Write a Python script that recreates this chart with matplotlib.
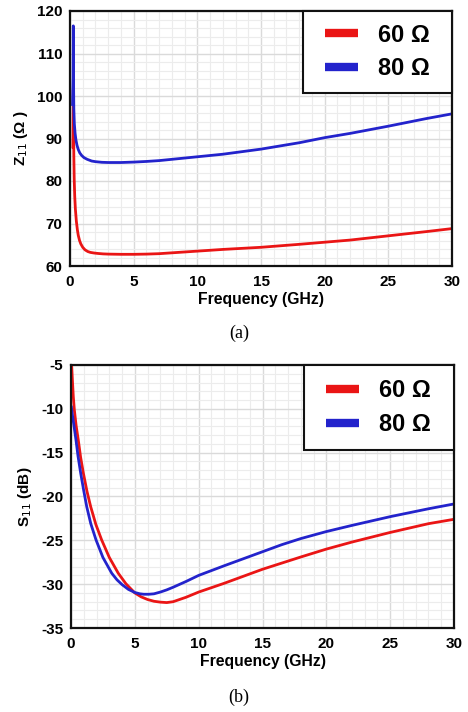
import matplotlib
matplotlib.use("Agg")
import matplotlib.pyplot as plt
from matplotlib.ticker import MultipleLocator
from matplotlib.patches import Rectangle

plt.rcParams['font.family'] = ['Liberation Sans', 'DejaVu Sans']
plt.rcParams['axes.unicode_minus'] = False

# ---- Panel (a): Z11 (Ohm) vs frequency (GHz) ----
z_freq_60 = [0.23, 0.26, 0.28, 0.3, 0.33, 0.37, 0.42, 0.5, 0.58, 0.65, 0.75, 0.85, 1.0, 1.18, 1.4, 1.6, 1.9, 2.2, 2.6, 3, 4, 5, 6, 7, 8, 10, 12, 15, 18, 20, 22, 25, 28, 30]
z_60 = [88, 101.5, 92, 86, 80.5, 76.5, 73.5, 70.5, 68.5, 67.2, 66.0, 65.2, 64.4, 63.8, 63.4, 63.2, 63.05, 62.95, 62.85, 62.8, 62.75, 62.75, 62.8, 62.9, 63.1, 63.5, 63.9, 64.4, 65.1, 65.6, 66.1, 67.1, 68.1, 68.8]
z_freq_80 = [0.2, 0.24, 0.26, 0.28, 0.3, 0.34, 0.4, 0.47, 0.55, 0.65, 0.77, 0.92, 1.1, 1.35, 1.7, 2.0, 2.5, 3, 4, 5, 6, 7, 8, 10, 12, 15, 18, 20, 22, 25, 28, 30]
z_80 = [98, 104, 116.5, 103, 97, 93.5, 91.2, 89.6, 88.4, 87.4, 86.6, 86.0, 85.5, 85.1, 84.7, 84.55, 84.4, 84.35, 84.35, 84.45, 84.6, 84.8, 85.1, 85.7, 86.3, 87.5, 89.0, 90.2, 91.2, 92.9, 94.7, 95.8]

# ---- Panel (b): S11 (dB) vs frequency (GHz) ----
s_freq_60 = [0.05, 0.12, 0.18, 0.26, 0.4, 0.57, 0.75, 0.97, 1.25, 1.54, 1.95, 2.4, 3.0, 3.7, 4.3, 5.0, 5.5, 6.0, 6.5, 7.0, 7.5, 8.0, 9.0, 10, 11, 12, 13.5, 15, 16.5, 18, 20, 22, 25, 28, 30]
s_60 = [-5, -7, -8.6, -10.1, -11.9, -13.55, -15.5, -17.35, -19.4, -21.15, -23.2, -24.95, -26.95, -28.75, -29.95, -31.0, -31.45, -31.75, -31.95, -32.05, -32.1, -32.0, -31.5, -30.9, -30.4, -29.9, -29.1, -28.3, -27.6, -26.9, -26.0, -25.2, -24.1, -23.1, -22.6]
s_freq_80 = [0.03, 0.1, 0.2, 0.39, 0.55, 0.76, 1.0, 1.23, 1.55, 1.96, 2.5, 3.19, 3.6, 4.0, 4.5, 5.0, 5.4, 5.7, 6.1, 6.5, 7.0, 7.5, 8.0, 9.0, 10, 11, 12, 13.5, 15, 16.5, 18, 20, 22, 25, 28, 30]
s_80 = [-9.8, -10.6, -11.6, -13.55, -15.4, -17.35, -19.35, -21.15, -23.1, -24.95, -26.95, -28.75, -29.5, -30.05, -30.6, -30.95, -31.1, -31.15, -31.15, -31.1, -30.9, -30.65, -30.35, -29.7, -29.0, -28.45, -27.9, -27.1, -26.3, -25.5, -24.8, -24.0, -23.3, -22.3, -21.4, -20.85]

series_labels = ['60 Ω', '80 Ω']
colors = ['#ea1515', '#2323cc']

fig = plt.figure(figsize=(4.68, 7.12), dpi=100)
W, H = 468, 712
ax1 = fig.add_axes([70 / W, 1 - 266 / H, (452 - 70) / W, (266 - 11) / H])
ax2 = fig.add_axes([71 / W, 1 - 628 / H, (454 - 71) / W, (628 - 365) / H])


def style(ax, ylim, ymaj, ymin):
    ax.set_xlim(0, 30)
    ax.set_ylim(*ylim)
    ax.xaxis.set_major_locator(MultipleLocator(5))
    ax.xaxis.set_minor_locator(MultipleLocator(1))
    ax.yaxis.set_major_locator(MultipleLocator(ymaj))
    ax.yaxis.set_minor_locator(MultipleLocator(ymin))
    ax.grid(which='minor', color='#ececec', linewidth=0.8)
    ax.grid(which='major', color='#dadada', linewidth=1.0)
    ax.set_axisbelow(True)
    for s in ax.spines.values():
        s.set_linewidth(1.6)
        s.set_color('#111111')
    ax.tick_params(which='both', length=0, labelsize=11)
    ax.tick_params(axis='x', pad=6.5)
    ax.tick_params(axis='y', pad=5.5)
    for lab in ax.get_xticklabels() + ax.get_yticklabels():
        lab.set_fontweight('bold')
    ax.set_xlabel('Frequency (GHz)', fontsize=11.3, fontweight='bold', labelpad=2)


def legend_box(ax, fx0, fy0):
    ax.add_patch(Rectangle((fx0, fy0), 1 - fx0, 1 - fy0, transform=ax.transAxes,
                           facecolor='white', edgecolor='#111111', linewidth=1.5,
                           zorder=5, clip_on=False))
    leg = ax.legend(loc='center left', bbox_to_anchor=(fx0 + 0.058, (1 + fy0) / 2),
                    prop={'weight': 'bold', 'size': 17}, frameon=False,
                    borderpad=0, handlelength=1.4, handletextpad=0.85,
                    labelspacing=0.45, borderaxespad=0)
    leg.set_zorder(6)
    for line in leg.get_lines():
        line.set_linewidth(6)
        line.set_solid_capstyle('butt')


ax1.plot(z_freq_60, z_60, color=colors[0], lw=2, label=series_labels[0])
ax1.plot(z_freq_80, z_80, color=colors[1], lw=2, label=series_labels[1])
style(ax1, (60, 120), 10, 2)
ax1.set_ylabel('Z$_{11}$ (Ω )', fontsize=11, fontweight='bold', labelpad=5)
legend_box(ax1, (303 - 70) / 382, 1 - (93 - 11) / 255)

ax2.plot(s_freq_60, s_60, color=colors[0], lw=2, label=series_labels[0])
ax2.plot(s_freq_80, s_80, color=colors[1], lw=2, label=series_labels[1])
style(ax2, (-35, -5), 5, 1)
ax2.set_ylabel('S$_{11}$ (dB)', fontsize=11, fontweight='bold', labelpad=5)
legend_box(ax2, (304 - 71) / 383, 1 - (450 - 365) / 263)

fig.text(239 / W, 1 - 333 / H, '(a)', ha='center', va='center', fontsize=13, family='Liberation Serif')
fig.text(239 / W, 1 - 697 / H, '(b)', ha='center', va='center', fontsize=13, family='Liberation Serif')

fig.savefig('out.png', dpi=100)
